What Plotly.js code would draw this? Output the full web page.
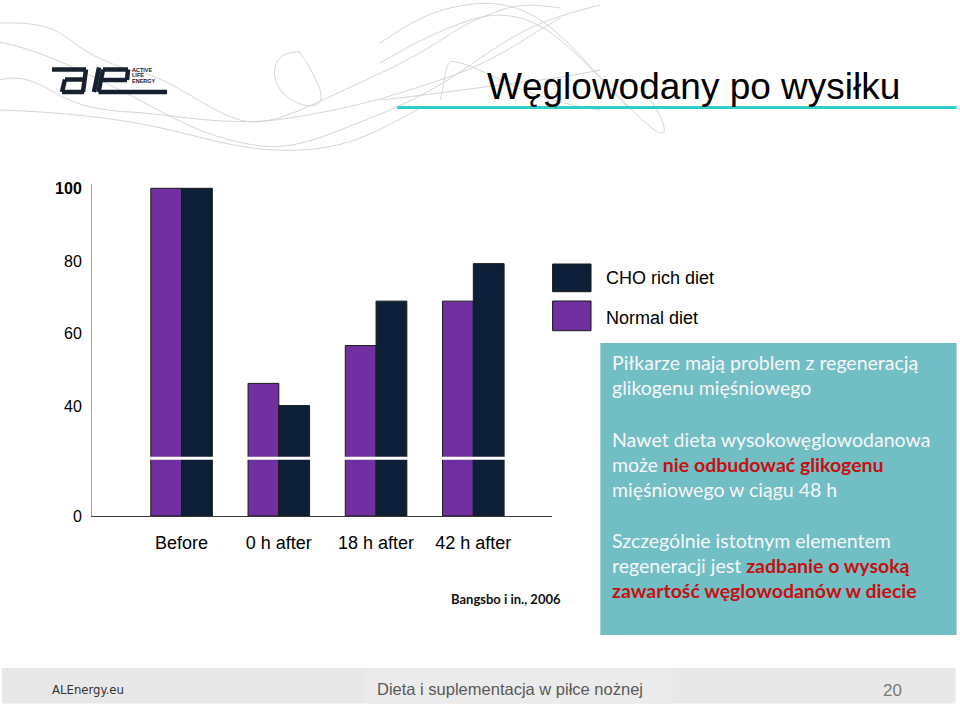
<!DOCTYPE html>
<html><head><meta charset="utf-8">
<script src="https://cdn.plot.ly/plotly-3.0.1.min.js"></script>
<style>html,body{margin:0;padding:0;background:#fff}#chart{width:960px;height:705px}</style>
</head><body><div id="chart"></div>
<script>
// ---- data ----
const categories = ['Before', '0 h after', '18 h after', '42 h after'];
const normalDiet = [100, 46.4, 56.8, 69.0];
const choRichDiet = [100, 40.3, 69.0, 79.3];
const seriesNames = ['Normal diet', 'CHO rich diet'];
const upperTickVals = [40, 60, 80, 100];
const upperTickText = ['40', '60', '80', '<b>100</b>'];
const lowerTickVals = [0];
const lowerTickText = ['0'];

// ---- style ----
const PURPLE = '#7030A0', NAVY = '#0D1E37';
const ARIAL = 'Liberation Sans, Arial, sans-serif';
const CAL = 'Lato, Open Sans, sans-serif';
const L = 92, R = 551.7, T = 184, B = 516, BREAK = 458.3;
const fx = x => (x - L) / (R - L);
const fy = y => (B - y) / (B - T);
const brk = fy(BREAK);
function path(s) {
  return s.replace(/(-?\d+\.?\d*),(-?\d+\.?\d*)/g, (m, a, b) => fx(+a).toFixed(5) + ',' + fy(+b).toFixed(5));
}
function ann(text, x, y, o) {
  return Object.assign({text: text, x: fx(x), y: fy(y), xref: 'paper', yref: 'paper', showarrow: false,
    xanchor: 'left', yanchor: 'middle', font: {family: ARIAL, size: 16, color: '#000'}}, o || {});
}
function rect(x0, y0, x1, y1, fill, o) {
  return Object.assign({type: 'rect', xref: 'paper', yref: 'paper', x0: fx(x0), x1: fx(x1), y0: fy(y0), y1: fy(y1),
    fillcolor: fill, line: {width: 0}}, o || {});
}
function line(x0, y0, x1, y1, color, w, o) {
  return Object.assign({type: 'line', xref: 'paper', yref: 'paper', x0: fx(x0), x1: fx(x1), y0: fy(y0), y1: fy(y1),
    line: {color: color, width: w}}, o || {});
}

const barLine = {color: '#1a1a1a', width: 1};
const traces = [];
['y', 'y2'].forEach(ax => {
  traces.push({type: 'bar', name: seriesNames[0], x: categories, y: normalDiet, xaxis: 'x', yaxis: ax,
    marker: {color: PURPLE, line: barLine}, showlegend: false, hoverinfo: 'x+y'});
  traces.push({type: 'bar', name: seriesNames[1], x: categories, y: choRichDiet, xaxis: 'x', yaxis: ax,
    marker: {color: NAVY, line: barLine}, showlegend: false, hoverinfo: 'x+y'});
});

// decorative background swooshes (pixel coords)
const swooshes = [
  'M0,23 C40,22 55,28 70,40 S110,66 140,72 S210,112 240,120 S300,110 370,78 S450,30 480,18 S520,2 560,8',
  'M0,42 C40,50 80,70 120,90 S190,130 230,140 S290,150 340,130 S420,100 470,65 S540,20 600,5',
  'M0,80 C15,76 30,78 50,90 S90,110 130,112 S230,128 290,118 S380,100 440,80 S520,40 560,18',
  'M0,110 C60,112 120,118 170,130 S250,152 300,150 S380,130 420,108',
  'M300,52 C270,50 268,80 285,95 S330,112 318,85 S300,55 300,52',
  'M380,43 C400,30 420,15 450,8 S510,0 540,20 S600,80 640,118 S660,112 650,100',
  'M380,63 C410,45 440,30 470,20 S530,15 560,40 S610,90 630,110',
  'M440,100 C445,80 445,65 450,62 S480,70 500,80 S560,105 600,110',
  'M380,100 C420,96 460,90 500,85 S560,78 600,70'
];
const shapes = [];
swooshes.forEach(s => shapes.push({type: 'path', xref: 'paper', yref: 'paper', path: path(s),
  line: {color: '#d6d6d6', width: 1}, layer: 'below'}));

// title underline
shapes.push(line(397, 107.5, 956, 107.5, '#2CCFCB', 3));
// logo (decorative)
const LOGO = '#16202E';
[[52,69.5,86,69.5],[86,69.5,83,92],[65,79.5,84,79.5],[65,79.5,62,92],[62,92,84,92],
 [99,67.5,94,92],
 [103,69.5,128,69.5],[128,69.5,127,80],[101,80,127,80],[103,69.5,98.5,92],[98.5,92,167,92]
].forEach(p => shapes.push(line(p[0], p[1], p[2], p[3], LOGO, 4.5)));

// axis break marks
shapes.push({type: 'line', xref: 'paper', yref: 'paper', x0: fx(95), x1: 1, y0: brk, y1: brk,
  line: {color: '#ffffff', width: 3}});

// legend squares
shapes.push(rect(552.3, 264, 590.7, 291.7, NAVY, {line: {color: '#1a1a1a', width: 1}}));
shapes.push(rect(552.3, 301, 590.7, 330.7, PURPLE, {line: {color: '#1a1a1a', width: 1}}));

// teal box
shapes.push(rect(600, 343, 956, 635, '#72BEC5', {layer: 'below'}));
// footer
shapes.push(rect(2, 668, 955, 703.5, '#E8E8E8', {layer: 'below'}));
shapes.push(rect(365, 668, 673, 703.5, '#EBEBEB', {layer: 'below'}));

const RED = s => '<span style="color:#C80F0F"><b>' + s + '</b></span>';
const TXT = {family: CAL, size: 19.5, color: '#F7F7F7'};
const LG = {family: ARIAL, size: 5.5, color: LOGO};
const annotations = [
  ann('Węglowodany po wysiłku', 485, 87, {font: {family: ARIAL, size: 37, color: '#000'}}),
  ann('<b>ACTIVE</b>', 130, 70, {font: LG}),
  ann('<b>LIFE</b>', 130, 75.5, {font: LG}),
  ann('<b>ENERGY</b>', 130, 81, {font: LG}),
  ann(seriesNames[1], 604, 277.5, {font: {family: ARIAL, size: 18, color: '#000'}}),
  ann(seriesNames[0], 604, 317.5, {font: {family: ARIAL, size: 18, color: '#000'}}),
  ann('<b>Bangsbo i in., 2006</b>', 449, 598.5, {font: {family: CAL, size: 13, color: '#111'}}),
  ann('Piłkarze mają problem z regeneracją', 610, 362, {font: TXT}),
  ann('glikogenu mięśniowego', 610, 387.5, {font: TXT}),
  ann('Nawet dieta wysokowęglowodanowa', 610, 439, {font: TXT}),
  ann('może ' + RED('nie odbudować glikogenu'), 610, 464, {font: TXT}),
  ann('mięśniowego w ciągu 48 h', 610, 489.5, {font: TXT}),
  ann('Szczególnie istotnym elementem', 610, 540.5, {font: TXT}),
  ann('regeneracji jest ' + RED('zadbanie o wysoką'), 610, 565.5, {font: TXT}),
  ann(RED('zawartość węglowodanów w diecie'), 610, 590.5, {font: TXT}),
  ann('ALEnergy.eu', 50, 689, {font: {family: 'DejaVu Sans Condensed, ' + CAL, size: 13, color: '#333'}}),
  ann('Dieta i suplementacja w piłce nożnej', 375, 689, {font: {family: ARIAL, size: 16.5, color: '#595959'}}),
  ann('20', 880, 690, {font: {family: ARIAL, size: 17, color: '#7a7a7a'}})
];

const yCommon = {showline: true, linecolor: '#A6A6A6', linewidth: 1, showgrid: false, zeroline: false,
  ticks: '', tickfont: {family: ARIAL, size: 16, color: '#000'}, ticklabelstandoff: 6, fixedrange: true, anchor: 'x'};

const layout = {
  width: 960, height: 705,
  margin: {l: L, r: 960 - R, t: T, b: 705 - B, pad: 0},
  paper_bgcolor: '#ffffff', plot_bgcolor: 'rgba(0,0,0,0)',
  barmode: 'group', bargap: 0.367, bargroupgap: 0,
  showlegend: false,
  xaxis: {type: 'category', range: [-0.921, 3.809], anchor: 'y2', showline: true, linecolor: '#3a3a3a', linewidth: 1,
    ticks: '', showgrid: false, zeroline: false, tickfont: {family: ARIAL, size: 18, color: '#000'},
    ticklabelstandoff: 10, fixedrange: true},
  yaxis: Object.assign({}, yCommon, {domain: [brk, 1], range: [25.82, 101.18], tickvals: upperTickVals, ticktext: upperTickText}),
  yaxis2: Object.assign({}, yCommon, {domain: [0, brk], range: [0, 20], tickvals: lowerTickVals, ticktext: lowerTickText}),
  shapes: shapes,
  annotations: annotations
};
Plotly.newPlot('chart', traces, layout, {displayModeBar: false, staticPlot: true});
</script></body></html>
